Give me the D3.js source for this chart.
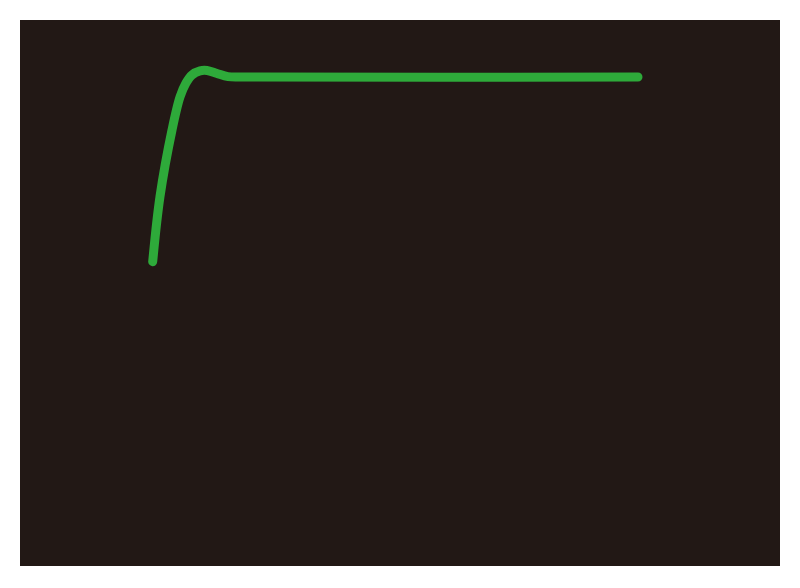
<!DOCTYPE html>
<html>
<head>
<meta charset="utf-8">
<script src="https://cdn.jsdelivr.net/npm/d3@7"></script>
<style>
  body { margin: 0; background: #ffffff; }
</style>
</head>
<body>
<div id="chart"></div>
<script>
// step response
var times = [0, 1.5, 3.98, 5.63, 6.86, 8.1, 9.75, 11.19, 13.25, 15.52, 19.02, 100]
var response = [0, 0.352, 0.713, 0.892, 0.967, 1.011, 1.033, 1.035, 1.019, 1.002, 1.0, 1.0]

var width = 800, height = 588

var svg = d3.select('#chart').append('svg')
    .attr('width', width)
    .attr('height', height)

// dark panel
svg.append('rect')
    .attr('x', 20)
    .attr('y', 20)
    .attr('width', 760)
    .attr('height', 546)
    .attr('fill', '#221815')

var x = d3.scaleLinear().domain([0, 100]).range([152.7, 638])
var y = d3.scaleLinear().domain([0, 1]).range([261.7, 77])

var points = times.map(function(t, i) { return [t, response[i]] })

var line = d3.line()
    .x(d => x(d[0]))
    .y(d => y(d[1]))
    .curve(d3.curveCatmullRom.alpha(0.5))

svg.append('path')
    .datum(points)
    .attr('d', line)
    .attr('fill', 'none')
    .attr('stroke', '#2eaa3a')
    .attr('stroke-width', 9)
    .attr('stroke-linecap', 'round')
    .attr('stroke-linejoin', 'round')
</script>
</body>
</html>
